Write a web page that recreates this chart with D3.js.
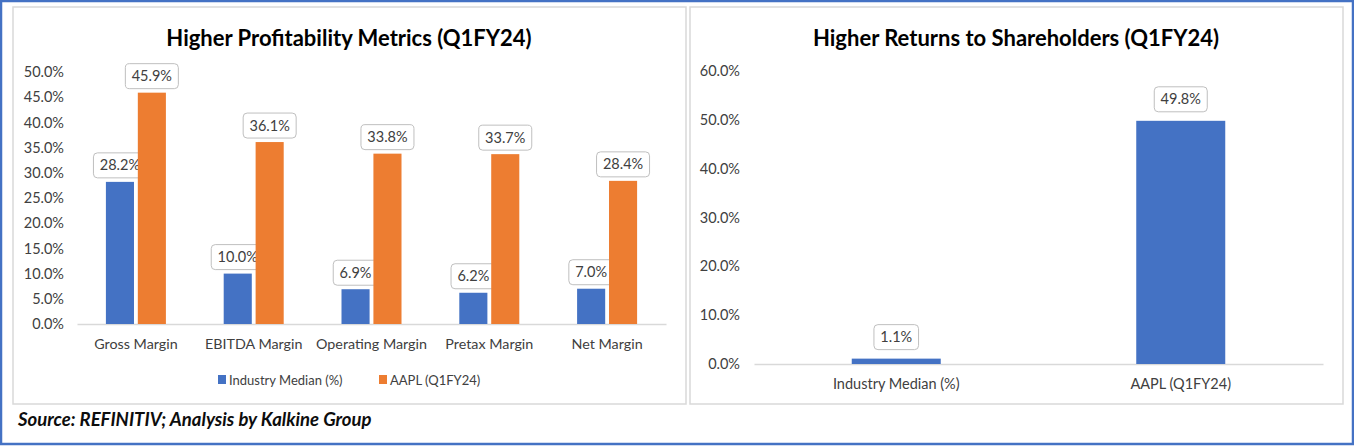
<!DOCTYPE html>
<html>
<head>
<meta charset="utf-8">
<script src="https://cdn.jsdelivr.net/npm/d3@7"></script>
<style>
  body { margin: 0; background: #fff; }
  svg { display: block; font-family: "Lato", "Open Sans", sans-serif; }
</style>
</head>
<body>
<svg id="chart" width="1354" height="446"></svg>
<script>
// left chart data
var metrics = ["Gross Margin", "EBITDA Margin", "Operating Margin", "Pretax Margin", "Net Margin"];
var seriesNames = ["Industry Median (%)", "AAPL (Q1FY24)"];
var industryMedian = [28.2, 10.0, 6.9, 6.2, 7.0];
var aapl = [45.9, 36.1, 33.8, 33.7, 28.4];
var leftTicks = [0, 5, 10, 15, 20, 25, 30, 35, 40, 45, 50];

// right chart data
var returnCats = ["Industry Median (%)", "AAPL (Q1FY24)"];
var returnVals = [1.1, 49.8];
var rightTicks = [0, 10, 20, 30, 40, 50, 60];

var colors = ["#4472C4", "#ED7D31"];
var fmt = function(d) { return d.toFixed(1) + "%"; };

var svg = d3.select("#chart");

// outer blue frame
svg.append("rect")
    .attr("x", 1).attr("y", 1)
    .attr("width", 1352).attr("height", 443)
    .attr("fill", "none")
    .attr("stroke", "#4472C4")
    .attr("stroke-width", 2.5);

// panel borders
svg.append("rect")
    .attr("x", 13).attr("y", 7).attr("width", 673).attr("height", 397)
    .attr("fill", "#fff").attr("stroke", "#d9d9d9").attr("stroke-width", 1.5);
svg.append("rect")
    .attr("x", 690).attr("y", 7).attr("width", 653).attr("height", 397)
    .attr("fill", "#fff").attr("stroke", "#d9d9d9").attr("stroke-width", 1.5);

function dataLabel(g, x, y, text) {
    var w = text.length * 8.4 + 11;
    g.append("rect")
        .attr("x", x - w / 2).attr("y", y - 25)
        .attr("width", w).attr("height", 25)
        .attr("rx", 4)
        .attr("fill", "#fff")
        .attr("stroke", "#bfbfbf")
        .attr("stroke-width", 1);
    g.append("text")
        .attr("x", x).attr("y", y - 7.5)
        .attr("text-anchor", "middle")
        .attr("font-size", 14.5)
        .attr("fill", "#404040")
        .text(text);
}

/*
Left chart - profitability metrics
 */

var yL = d3.scaleLinear().domain([0, 50]).range([324, 72]);
var xL = d3.scaleBand().domain(metrics).range([77, 666]);
var xSub = d3.scaleBand().domain([0, 1]).range([-30, 30]).paddingInner(0.12);

svg.append("text")
    .attr("x", 349).attr("y", 46)
    .attr("text-anchor", "middle")
    .attr("font-size", 22).attr("font-weight", "bold")
    .attr("fill", "#000")
    .text("Higher Profitability Metrics (Q1FY24)");

var axisL = svg.append("g")
    .attr("transform", "translate(64,0)")
    .call(d3.axisLeft(yL).tickValues(leftTicks).tickSize(0).tickPadding(0).tickFormat(fmt));
axisL.select(".domain").remove();
axisL.selectAll("text").attr("font-size", 14.5).attr("fill", "#404040").attr("font-family", "Lato");

var baseL = svg.append("g")
    .attr("transform", "translate(0,324)")
    .call(d3.axisBottom(xL).tickSize(0).tickPadding(15));
baseL.select(".domain").attr("stroke", "#d9d9d9").attr("stroke-width", 1.5);
baseL.selectAll("text").attr("font-size", 14.3).attr("fill", "#404040").attr("font-family", "Lato");

var series = [industryMedian, aapl];
series.forEach(function(vals, s) {
    var gBars = svg.append("g");
    gBars.selectAll("rect")
        .data(vals)
        .enter()
        .append("rect")
        .attr("x", function(d, i) { return xL(metrics[i]) + xL.bandwidth() / 2 + xSub(s); })
        .attr("y", function(d) { return yL(d); })
        .attr("width", xSub.bandwidth())
        .attr("height", function(d) { return yL(0) - yL(d); })
        .attr("fill", colors[s]);
    vals.forEach(function(d, i) {
        var cx = xL(metrics[i]) + xL.bandwidth() / 2 + xSub(s) + xSub.bandwidth() / 2;
        dataLabel(gBars, cx, yL(d) - 4, fmt(d));
    });
});

// legend
var legend = svg.append("g").attr("transform", "translate(218,380)");
var legX = [0, 161];
seriesNames.forEach(function(name, i) {
    legend.append("rect")
        .attr("x", legX[i]).attr("y", -5)
        .attr("width", 8).attr("height", 9)
        .attr("fill", colors[i]);
    legend.append("text")
        .attr("x", legX[i] + 11).attr("y", 4.5)
        .attr("font-size", 13).attr("fill", "#404040")
        .text(name);
});

/*
Right chart - returns to shareholders
 */

var yR = d3.scaleLinear().domain([0, 60]).range([364, 71]);
var xR = d3.scaleBand().domain(returnCats).range([754, 1323]).paddingInner(0).paddingOuter(0);

svg.append("text")
    .attr("x", 1016).attr("y", 46)
    .attr("text-anchor", "middle")
    .attr("font-size", 22).attr("font-weight", "bold")
    .attr("fill", "#000")
    .text("Higher Returns to Shareholders (Q1FY24)");

var axisR = svg.append("g")
    .attr("transform", "translate(740,0)")
    .call(d3.axisLeft(yR).tickValues(rightTicks).tickSize(0).tickPadding(0).tickFormat(fmt));
axisR.select(".domain").remove();
axisR.selectAll("text").attr("font-size", 14.5).attr("fill", "#404040").attr("font-family", "Lato");

var baseR = svg.append("g")
    .attr("transform", "translate(0,364)")
    .call(d3.axisBottom(xR).tickSize(0).tickPadding(15));
baseR.select(".domain").attr("stroke", "#d9d9d9").attr("stroke-width", 1.5);
baseR.selectAll("text").attr("font-size", 14.5).attr("fill", "#404040").attr("font-family", "Lato");

var barW = 89;
var gR = svg.append("g");
gR.selectAll("rect")
    .data(returnVals)
    .enter()
    .append("rect")
    .attr("x", function(d, i) { return xR(returnCats[i]) + xR.bandwidth() / 2 - barW / 2; })
    .attr("y", function(d) { return yR(d); })
    .attr("width", barW)
    .attr("height", function(d) { return yR(0) - yR(d); })
    .attr("fill", colors[0]);
returnVals.forEach(function(d, i) {
    dataLabel(gR, xR(returnCats[i]) + xR.bandwidth() / 2, yR(d) - 9, fmt(d));
});

// source note
svg.append("text")
    .attr("x", 18).attr("y", 426)
    .attr("font-size", 18.5).attr("font-weight", "bold").attr("font-style", "italic")
    .attr("fill", "#0d0d0d")
    .text("Source: REFINITIV; Analysis by Kalkine Group");
</script>
</body>
</html>
